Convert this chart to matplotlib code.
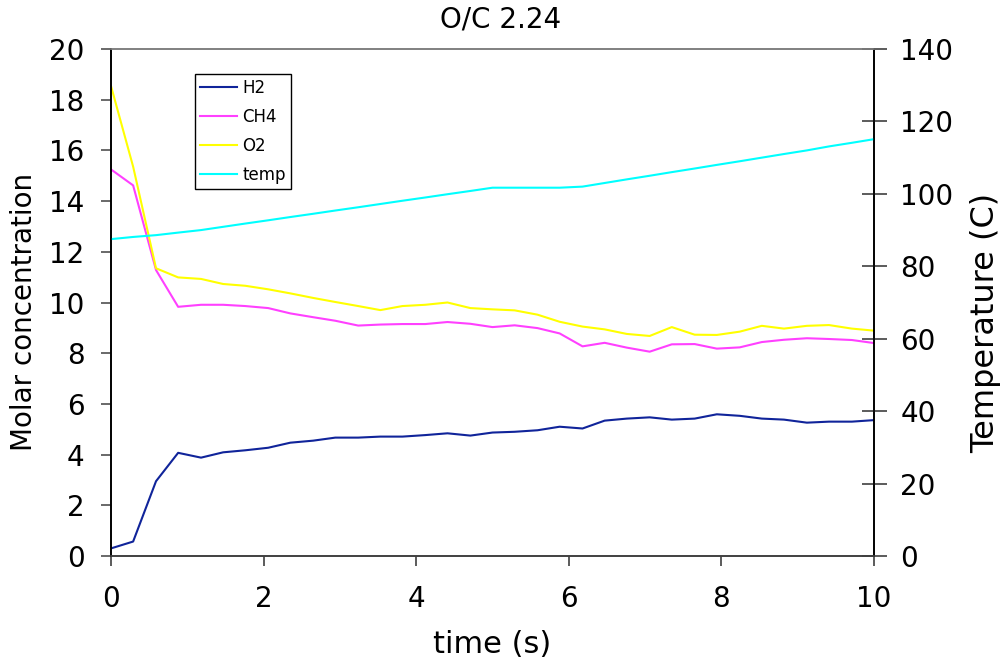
import matplotlib
matplotlib.use("Agg")
import matplotlib.pyplot as plt

# time steps (s)
time = [0.00, 0.29, 0.59, 0.88, 1.18, 1.47, 1.76, 2.06, 2.35, 2.65,
        2.94, 3.24, 3.53, 3.82, 4.12, 4.41, 4.71, 5.00, 5.29, 5.59,
        5.88, 6.18, 6.47, 6.76, 7.06, 7.35, 7.65, 7.94, 8.24, 8.53,
        8.82, 9.12, 9.41, 9.71, 10.00]

h2 = [0.30, 0.57, 2.95, 4.07, 3.88, 4.09, 4.17, 4.27, 4.47, 4.55,
      4.67, 4.67, 4.71, 4.71, 4.77, 4.84, 4.75, 4.87, 4.90, 4.96,
      5.10, 5.03, 5.34, 5.42, 5.47, 5.38, 5.42, 5.59, 5.53, 5.42,
      5.38, 5.26, 5.30, 5.30, 5.36]

ch4 = [15.25, 14.62, 11.28, 9.83, 9.91, 9.91, 9.86, 9.78, 9.57, 9.42,
       9.28, 9.09, 9.13, 9.15, 9.15, 9.23, 9.16, 9.03, 9.10, 8.99,
       8.78, 8.27, 8.41, 8.22, 8.06, 8.35, 8.36, 8.18, 8.23, 8.44,
       8.53, 8.59, 8.56, 8.52, 8.40]

o2 = [18.54, 15.36, 11.35, 10.99, 10.93, 10.73, 10.66, 10.52, 10.36, 10.18,
      10.02, 9.86, 9.70, 9.86, 9.91, 10.00, 9.78, 9.73, 9.69, 9.52,
      9.24, 9.05, 8.94, 8.76, 8.68, 9.03, 8.73, 8.72, 8.85, 9.08,
      8.97, 9.08, 9.11, 8.97, 8.89]

temp = [87.5, 88.1, 88.6, 89.3, 90.0, 90.9, 91.8, 92.7, 93.6, 94.5,
        95.4, 96.3, 97.2, 98.1, 99.0, 99.9, 100.8, 101.7, 101.7, 101.7,
        101.7, 102.0, 103.0, 104.0, 105.0, 106.0, 107.0, 108.0, 109.0, 110.0,
        111.0, 112.0, 113.1, 114.1, 115.1]

left_ticks = list(range(0, 21, 2))
right_ticks = list(range(0, 141, 20))
x_ticks = list(range(0, 11, 2))

FS = 20

fig = plt.figure(figsize=(10.04, 6.66), dpi=100)
ax = fig.add_axes([111 / 1004, 1 - 556 / 666, (874 - 111) / 1004, (556 - 49) / 666])
ax2 = ax.twinx()

l1, = ax.plot(time, h2, color="#10249a", lw=1.5, label="H2")
l2, = ax.plot(time, ch4, color="#ff40ff", lw=1.5, label="CH4")
l3, = ax.plot(time, o2, color="#ffff00", lw=1.5, label="O2")
l4, = ax2.plot(time, temp, color="#00ffff", lw=1.5, label="temp")

ax.set_xlim(0, 10)
ax.set_ylim(0, 20)
ax2.set_ylim(0, 140)
ax.set_xticks(x_ticks)
ax.set_yticks(left_ticks)
ax2.set_yticks(right_ticks)

for a in (ax, ax2):
    for s in a.spines.values():
        s.set_linewidth(1.2)
    a.spines["top"].set_color("#808080")
    a.spines["bottom"].set_color("#404040")
    a.spines["left"].set_color("black")
    a.spines["right"].set_color("black")

ax.tick_params(axis="x", direction="out", length=7, width=1.2, color="#404040",
               labelsize=FS, pad=14)
ax.tick_params(axis="y", direction="out", length=7, width=1.2, color="#505050",
               labelsize=FS, pad=12)
ax2.tick_params(axis="y", direction="inout", length=18, width=1.2, color="#404040",
                labelsize=FS, pad=10)

ax.set_xlabel("time (s)", fontsize=22, labelpad=12)
# axis titles placed where the reference has them
fig.text(24 / 1004, 1 - 312 / 666, "Molar concentration", fontsize=FS,
         rotation=90, ha="center", va="center")
fig.text(986 / 1004, 1 - 323 / 666, "Temperature (C)", fontsize=23,
         rotation=90, ha="center", va="center")
fig.text(501 / 1004, 1 - 20 / 666, "O/C 2.24", fontsize=FS, ha="center", va="center")

leg = ax2.legend(handles=[l1, l2, l3, l4], loc="upper left",
                 bbox_to_anchor=(195 / 1004, 1 - 74 / 666),
                 bbox_transform=fig.transFigure, borderaxespad=0,
                 fontsize=12, frameon=True, fancybox=False, framealpha=1,
                 edgecolor="black", handlelength=2.2, handletextpad=0.35,
                 labelspacing=0.65, borderpad=0.3)
leg.get_frame().set_linewidth(1.0)

fig.savefig("out.png", dpi=100)
